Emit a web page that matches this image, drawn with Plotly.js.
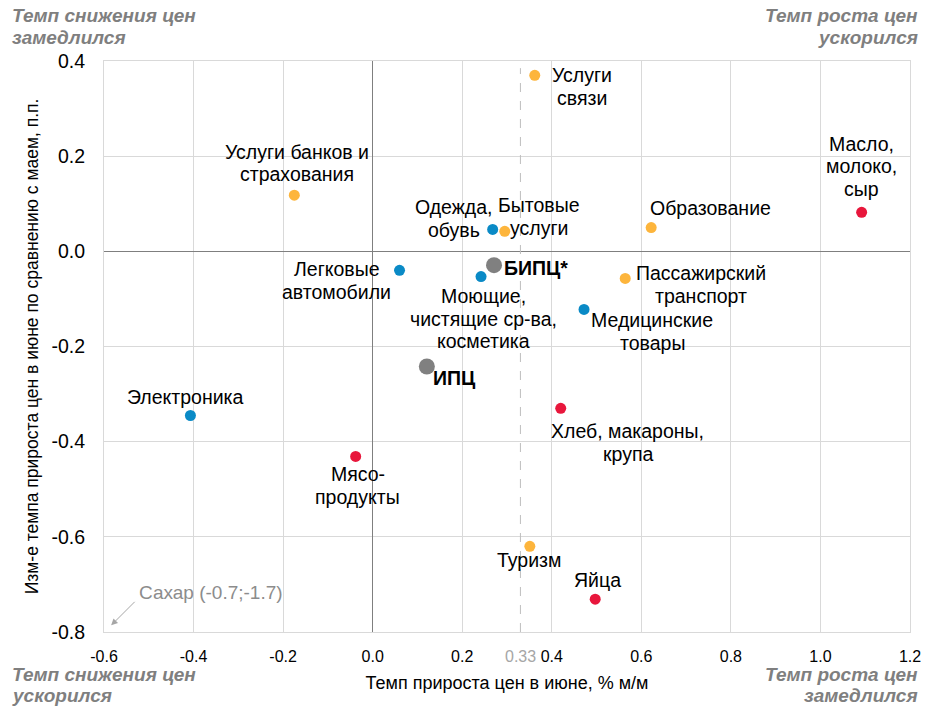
<!DOCTYPE html>
<html>
<head>
<meta charset="utf-8">
<script src="https://cdn.plot.ly/plotly-3.0.1.min.js"></script>
<style>html,body{margin:0;padding:0;background:#fff;}#chart{width:925px;height:708px;}</style>
</head>
<body>
<div id="chart"></div>
<script>
// ---- Data ----
const names = ["Услуги<br>связи", "Услуги банков и<br>страхования", "Масло,<br>молоко,<br>сыр", "Образование",
  "Одежда,<br>обувь", "Бытовые<br>услуги", "БИПЦ*", "Легковые<br>автомобили", "Моющие,<br>чистящие ср-ва,<br>косметика",
  "Пассажирский<br>транспорт", "Медицинские<br>товары", "ИПЦ", "Электроника", "Хлеб, макароны,<br>крупа",
  "Мясо-<br>продукты", "Туризм", "Яйца"];
const xVals = [0.362, -0.175, 1.092, 0.622, 0.268, 0.295, 0.271, 0.060, 0.242, 0.564, 0.472, 0.121, -0.407, 0.420, -0.038, 0.351, 0.497];
const yVals = [0.370, 0.118, 0.082, 0.050, 0.046, 0.042, -0.029, -0.040, -0.053, -0.057, -0.122, -0.242, -0.345, -0.330, -0.431, -0.620, -0.731];
const groups = ["services", "services", "food", "services", "nonfood", "services", "index", "nonfood", "nonfood",
  "services", "nonfood", "index", "nonfood", "food", "food", "services", "food"];
const xTicks = [-0.6, -0.4, -0.2, 0.0, 0.2, 0.4, 0.6, 0.8, 1.0, 1.2];
const yTicks = [-0.8, -0.6, -0.4, -0.2, 0.0, 0.2, 0.4];
const markX = 0.33;
const sugarText = "Сахар (-0.7;-1.7)";
const cornerTexts = [["Темп снижения цен", "замедлился"], ["Темп роста цен", "ускорился"],
  ["Темп снижения цен", "ускорился"], ["Темп роста цен", "замедлился"]];

// ---- Styles ----
const colors = {services: "#FDB53C", food: "#E8173C", nonfood: "#0A8AC6", index: "#808080"};
const sizes = {services: 11, food: 11, nonfood: 11, index: 16};
// label block centre offsets in pixels [xshift, yshift(up), xanchor]
const labelPos = [
  [47, -11, "center"], [3, 32, "center"], [0, 46, "center"], [59, 20, "center"],
  [-39, 11, "center"], [34, 15, "center"], [8, -3, "left"], [-63, -10, "center"],
  [2, -42, "center"], [76, -6, "center"], [68, -22, "center"], [4, -12, "left"],
  [-5, 19, "center"], [67, -34, "center"], [2, -29, "center"], [-1, -14, "center"], [2, 19, "center"]
];
const LINE = 22.5;
const FONT = "Liberation Sans, Arial, sans-serif";
const LBL = 19.5;

const trace = {
  type: "scatter", mode: "markers",
  x: xVals, y: yVals,
  marker: {color: groups.map(g => colors[g]), size: groups.map(g => sizes[g]), opacity: 1, line: {width: 0}},
  hoverinfo: "skip", showlegend: false, cliponaxis: false
};

const annotations = [];
names.forEach((n, i) => {
  const lines = n.split("<br>");
  const k = lines.length;
  lines.forEach((ln, j) => {
    annotations.push({
      x: xVals[i], y: yVals[i], xref: "x", yref: "y",
      text: groups[i] === "index" ? "<b>" + ln + "</b>" : ln,
      showarrow: false, xanchor: labelPos[i][2], yanchor: "middle", align: "center",
      xshift: labelPos[i][0], yshift: labelPos[i][1] + ((k - 1) / 2 - j) * LINE,
      font: {family: FONT, size: LBL, color: "#000"}
    });
  });
});

const cornerFont = {family: FONT, size: 19, color: "#7F7F7F"};
const cornerPos = [[10, 16, "left"], [920, 16, "right"], [10, 674, "left"], [920, 674, "right"]];
cornerTexts.forEach((c, i) => {
  c.forEach((ln, j) => annotations.push({
    xref: "paper", yref: "paper",
    x: (cornerPos[i][0] - 104) / (910 - 104), y: (632 - (cornerPos[i][1] + j * 21.5)) / (632 - 61),
    xanchor: cornerPos[i][2], yanchor: "middle", showarrow: false,
    text: "<b><i>" + ln + "</i></b>", font: cornerFont
  }));
});

// 0.33 label
annotations.push({x: markX, y: 0, xref: "x", yref: "paper", yanchor: "middle", xanchor: "center",
  yshift: -24, showarrow: false, text: String(markX),
  font: {family: FONT, size: 16, color: "#A6A6A6"}});

// Sugar
annotations.push({x: -0.584, y: -0.786, xref: "x", yref: "y", ax: 25, ay: -25, text: "",
  showarrow: true, arrowhead: 2, arrowsize: 1.3, arrowwidth: 1, arrowcolor: "#A6A6A6"});
annotations.push({x: -0.526, y: -0.718, xref: "x", yref: "y", xanchor: "left", yanchor: "middle",
  showarrow: false, text: sugarText, font: {family: FONT, size: 19, color: "#8C8C8C"}});

const layout = {
  width: 925, height: 708,
  margin: {l: 104, r: 15, t: 61, b: 76},
  paper_bgcolor: "#fff", plot_bgcolor: "#fff",
  font: {family: FONT, color: "#000"},
  xaxis: {
    range: [-0.6, 1.2], tickvals: xTicks, ticktext: xTicks.map(v => v.toFixed(1)),
    showgrid: true, gridcolor: "#D9D9D9", gridwidth: 1,
    zeroline: true, zerolinecolor: "#7F7F7F", zerolinewidth: 1,
    showline: true, mirror: true, linecolor: "#D9D9D9", linewidth: 1,
    ticks: "", ticklabelstandoff: 10, tickfont: {family: FONT, size: 16, color: "#000"},
    title: {text: "Темп прироста цен в июне, % м/м", font: {family: FONT, size: 18, color: "#000"}, standoff: 12}
  },
  yaxis: {
    range: [-0.8, 0.4], tickvals: yTicks, ticktext: yTicks.map(v => v.toFixed(1)),
    showgrid: true, gridcolor: "#D9D9D9", gridwidth: 1,
    zeroline: true, zerolinecolor: "#7F7F7F", zerolinewidth: 1,
    showline: true, mirror: true, linecolor: "#D9D9D9", linewidth: 1,
    ticks: "", ticklabelstandoff: 14, tickfont: {family: FONT, size: 19.5, color: "#000"},
    title: {text: "Изм-е темпа прироста цен в июне по сравнению с маем, п.п.", font: {family: FONT, size: 17.5, color: "#000"}, standoff: 8}
  },
  shapes: [{type: "line", xref: "x", yref: "y", x0: markX, x1: markX, y0: -0.8, y1: 0.385,
    line: {color: "#BFBFBF", width: 1, dash: "dash"}}],
  annotations: annotations
};

Plotly.newPlot("chart", [trace], layout, {displayModeBar: false, staticPlot: true});
</script>
</body>
</html>
